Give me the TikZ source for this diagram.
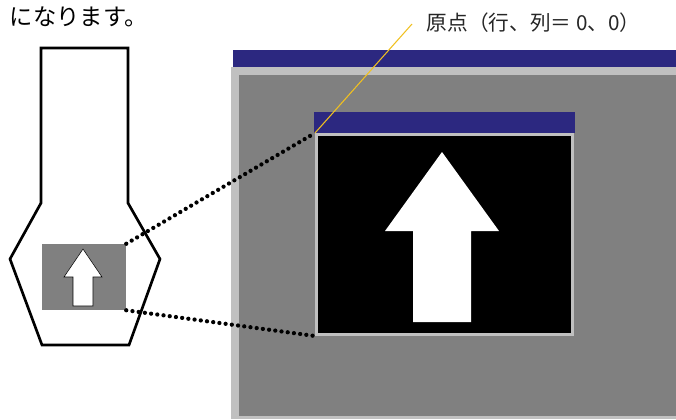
\documentclass[tikz,border=0pt]{standalone}
\usepackage{fontspec}
\newfontfamily\jpfont{Noto Sans CJK JP}
\definecolor{barblue}{HTML}{2C2880}
\definecolor{framegray}{HTML}{C0C0C0}
\definecolor{panegray}{HTML}{808080}
\definecolor{leadyellow}{HTML}{F0C020}
\tikzset{
  thumbv/.style={rectangle,fill=panegray,inner sep=0pt,minimum width=63pt,minimum height=49.5pt},
  screenv/.style={rectangle,fill=black,draw=framegray,line width=2.25pt,inner sep=0pt,minimum width=192pt,minimum height=150pt},
  zoomline/.style={line width=3.2pt,line cap=round,dash pattern=on 0pt off 4.7pt},
  leader/.style={leadyellow,line width=0.8pt},
  outline/.style={line width=2pt,line join=miter}
}
\begin{document}
\begin{tikzpicture}[x=0.75pt,y=-0.75pt,every node/.style={font=\jpfont}]
  \useasboundingbox (0,0) rectangle (676,419);
  \node[anchor=west,font=\jpfont\fontsize{17.5pt}{19pt}\selectfont] (intro) at (5,17) {になります。};

  \draw[outline] (41,48) -- (128,48) -- (128,203) -- (160,259) -- (129,345)
    -- (42,345) -- (10,259) -- (41,203) -- cycle;
  \node[thumbv] (thumb) at (84,277) {};
  \filldraw[fill=white,draw=black,line width=0.4pt] (83,249) -- (102,277) -- (93,277)
    -- (93,306) -- (73,306) -- (73,277) -- (64,277) -- cycle;

  \fill[framegray] (231,67) rectangle (676,419);
  \fill[panegray] (239,75) rectangle (676,416);
  \fill[barblue] (233,50) rectangle (676,67);
  \fill[barblue] (314,112) rectangle (575,133);
  \node[screenv] (screen) at (444.5,234.5) {};
  \fill[white] (442,152) -- (499,231) -- (471,231) -- (471,322) -- (413,322)
    -- (413,231) -- (385,231) -- cycle;

  \draw[zoomline] (thumb.north east) -- (screen.north west);
  \draw[zoomline] (thumb.south east) -- (screen.south west);

  \coordinate (tip) at (412,24);
  \draw[leader] (screen.north west) -- (tip);
  \node[anchor=west,font=\jpfont\fontsize{15.5pt}{17pt}\selectfont,text=black!85] (origin) at (422,23) {原点（行、列＝ 0、0）};
\end{tikzpicture}
\end{document}
